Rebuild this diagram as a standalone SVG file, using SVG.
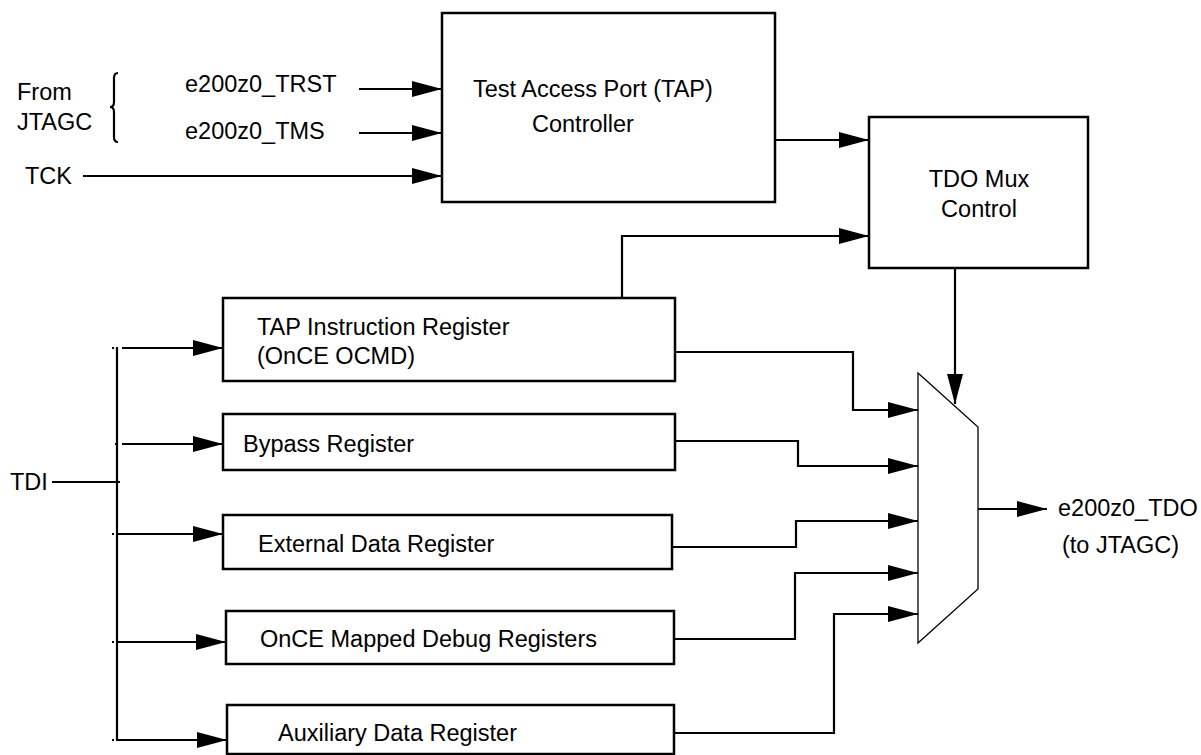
<svg xmlns="http://www.w3.org/2000/svg" width="1201" height="755" viewBox="0 0 1201 755">
<style>
text{font-family:"Liberation Sans",Arial,sans-serif;font-size:23.5px;fill:#000}
.box{fill:#fff;stroke:#000;stroke-width:2.5}
.w{fill:none;stroke:#000;stroke-width:2.2}
.mux{fill:#fff;stroke:#000;stroke-width:1.3}
</style>
<defs>
<marker id="ah" markerUnits="userSpaceOnUse" markerWidth="30" markerHeight="16" refX="30" refY="8" orient="auto">
<path d="M0,0 L30,8 L0,16 z" fill="#000"/>
</marker>
</defs>
<rect width="1201" height="755" fill="#fff"/>

<g id="labels-left">
<text x="17" y="100">From</text>
<text x="17" y="130">JTAGC</text>
<path class="w" d="M118,73 Q114,73 114,78 L114,102 Q114,107 110,107 Q114,107 114,112 L114,137 Q114,142 118,142"/>
<text x="185" y="92">e200z0_TRST</text>
<text x="185" y="139">e200z0_TMS</text>
<text x="25" y="184">TCK</text>
<text x="10" y="490">TDI</text>
</g>

<g id="tap-controller">
<rect class="box" x="442" y="13" width="333" height="189"/>
<text x="473" y="97">Test Access Port (TAP)</text>
<text x="532" y="132">Controller</text>
</g>

<g id="tdo-mux-control">
<rect class="box" x="869" y="117" width="219" height="151"/>
<text x="979" y="187" text-anchor="middle">TDO Mux</text>
<text x="979" y="217" text-anchor="middle">Control</text>
</g>

<g id="tap-instruction-register">
<rect class="box" x="223" y="298" width="452" height="83"/>
<text x="257" y="335">TAP Instruction Register</text>
<text x="257" y="364">(OnCE OCMD)</text>
</g>

<g id="bypass-register">
<rect class="box" x="223" y="414" width="452" height="56"/>
<text x="243" y="452">Bypass Register</text>
</g>

<g id="external-data-register">
<rect class="box" x="223" y="515" width="449" height="54"/>
<text x="258" y="552">External Data Register</text>
</g>

<g id="once-mapped-debug-registers">
<rect class="box" x="226" y="611" width="448" height="53"/>
<text x="260" y="647">OnCE Mapped Debug Registers</text>
</g>

<g id="auxiliary-data-register">
<rect class="box" x="227" y="705" width="447" height="49"/>
<text x="278" y="741">Auxiliary Data Register</text>
</g>

<g id="mux">
<path class="mux" d="M918,373 L978,427 L978,589 L918,643 z"/>
</g>

<g id="output-label">
<text x="1058" y="516">e200z0_TDO</text>
<text x="1062" y="553">(to JTAGC)</text>
</g>

<g id="connectors">
<path class="w" d="M359,89 H442" marker-end="url(#ah)"/>
<path class="w" d="M359,133 H442" marker-end="url(#ah)"/>
<path class="w" d="M83,176 H442" marker-end="url(#ah)"/>
<path class="w" d="M775,140 H869" marker-end="url(#ah)"/>
<path class="w" d="M622,298 V236 H869" marker-end="url(#ah)"/>
<path class="w" d="M955,268 V404" marker-end="url(#ah)"/>
<path class="w" d="M978,509 H1047" marker-end="url(#ah)"/>

<path class="w" d="M52,482 H120"/>
<path class="w" d="M117,347 V741"/>
<path class="w" d="M122,348 H223" marker-end="url(#ah)"/>
<path class="w" d="M122,444 H223" marker-end="url(#ah)"/>
<path class="w" d="M117,534 H223" marker-end="url(#ah)"/>
<path class="w" d="M117,642 H226" marker-end="url(#ah)"/>
<path class="w" d="M117,740 H227" marker-end="url(#ah)"/>
<g fill="#000">
<rect x="112" y="347" width="2" height="2"/>
<rect x="115" y="443" width="2" height="2"/>
<rect x="112" y="533" width="2" height="2"/>
<rect x="112" y="641" width="2" height="2"/>
<rect x="112" y="739" width="2" height="2"/>
</g>

<path class="w" d="M675,352 H853 V410 H918" marker-end="url(#ah)"/>
<path class="w" d="M675,441 H798 V466 H918" marker-end="url(#ah)"/>
<path class="w" d="M672,547 H796 V521 H918" marker-end="url(#ah)"/>
<path class="w" d="M674,639 H795 V573 H918" marker-end="url(#ah)"/>
<path class="w" d="M674,733 H834 V614 H918" marker-end="url(#ah)"/>
</g>
</svg>
